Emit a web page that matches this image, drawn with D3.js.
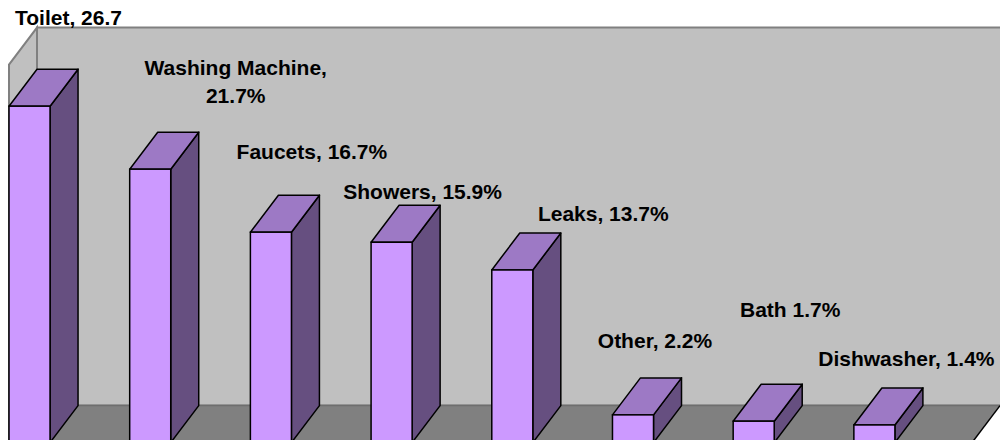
<!DOCTYPE html>
<html><head><meta charset="utf-8">
<script src="https://cdn.jsdelivr.net/npm/d3@7"></script>
<style>html,body{margin:0;padding:0;background:#fff;}svg{display:block;}</style>
</head><body>
<svg id="c" width="1000" height="440"></svg>
<script>
const categories = ["Toilet","Washing Machine","Faucets","Showers","Leaks","Other","Bath","Dishwasher"];
const values = [26.7,21.7,16.7,15.9,13.7,2.2,1.7,1.4];
const labels = [["Toilet, 26.7"],["Washing Machine,","21.7%"],["Faucets, 16.7%"],["Showers, 15.9%"],["Leaks, 13.7%"],["Other, 2.2%"],["Bath 1.7%"],["Dishwasher, 1.4%"]];
const yDomain = [0,30];

// layout (not data)
const labelOffsets = [[25,-81],[71.5,-94],[27,-73],[17,-43],[77,-49],[8,-67],[22.5,-104],[18,-59]];
const DX = 28, DY = -37;
const frontLeft = 9, frontRight = 972;

const svg = d3.select("#c");
const x = d3.scaleBand().domain(categories).range([9, 894.9]).paddingInner(0.66).paddingOuter(0);
const y = d3.scaleLinear().domain(yDomain).range([442.6, 64.6]);

const y0 = y(0), yT = y(yDomain[1]);
const pt = p => p.map(q => q.join(",")).join(" ");

// back wall
svg.append("polygon")
  .attr("points", pt([[frontLeft+DX, yT+DY],[frontRight+DX+40, yT+DY],[frontRight+DX+40, y0+DY],[frontLeft+DX, y0+DY]]))
  .attr("fill","#c0c0c0").attr("stroke","#808080").attr("stroke-width",2);
// left wall
svg.append("polygon")
  .attr("points", pt([[frontLeft, y0],[frontLeft, yT],[frontLeft+DX, yT+DY],[frontLeft+DX, y0+DY]]))
  .attr("fill","#c0c0c0").attr("stroke","#808080").attr("stroke-width",2);
// floor
svg.append("polygon")
  .attr("points", pt([[frontLeft, y0],[frontRight, y0],[frontRight+DX, y0+DY],[frontLeft+DX, y0+DY]]))
  .attr("fill","#808080").attr("stroke","none");
svg.append("line").attr("x1",frontLeft+DX).attr("x2",frontRight+DX+40).attr("y1",y0+DY).attr("y2",y0+DY)
  .attr("stroke","#6e6e6e").attr("stroke-width",1.5);
// white area right of floor
svg.append("polygon")
  .attr("points", pt([[frontRight, y0],[frontRight+DX, y0+DY],[1010, y0+DY],[1010, y0+10]]))
  .attr("fill","#fff");
svg.append("line").attr("x1",frontRight).attr("y1",y0).attr("x2",frontRight+DX).attr("y2",y0+DY)
  .attr("stroke","#000").attr("stroke-width",1.5);

// bars
const bw = x.bandwidth();
const g = svg.append("g");
categories.forEach((c,i) => {
  const xl = x(c), xr = xl + bw, yt = y(values[i]);
  const bar = g.append("g");
  bar.append("polygon").attr("points", pt([[xr, y0],[xr, yt],[xr+DX, yt+DY],[xr+DX, y0+DY]]))
    .attr("fill","#664f80").attr("stroke","#000").attr("stroke-width",1.5).attr("stroke-linejoin","round");
  bar.append("polygon").attr("points", pt([[xl, yt],[xr, yt],[xr+DX, yt+DY],[xl+DX, yt+DY]]))
    .attr("fill","#9d79c5").attr("stroke","#000").attr("stroke-width",1.5).attr("stroke-linejoin","round");
  bar.append("rect").attr("x", xl).attr("y", yt).attr("width", bw).attr("height", y0-yt)
    .attr("fill","#cc99ff").attr("stroke","#000").attr("stroke-width",1.5);
});

// labels
categories.forEach((c,i) => {
  const cx = x(c) + (bw + DX)/2 + labelOffsets[i][0];
  const by = y(values[i]) + labelOffsets[i][1];
  const t = svg.append("text").attr("x", cx).attr("y", by)
    .attr("text-anchor","middle").attr("font-family","Arial, 'Liberation Sans', sans-serif")
    .attr("font-weight","bold").attr("font-size",21).attr("fill","#000");
  labels[i].forEach((line,k) => t.append("tspan").attr("x", cx).attr("dy", k===0?0:28).text(line));
});
</script>
</body></html>
